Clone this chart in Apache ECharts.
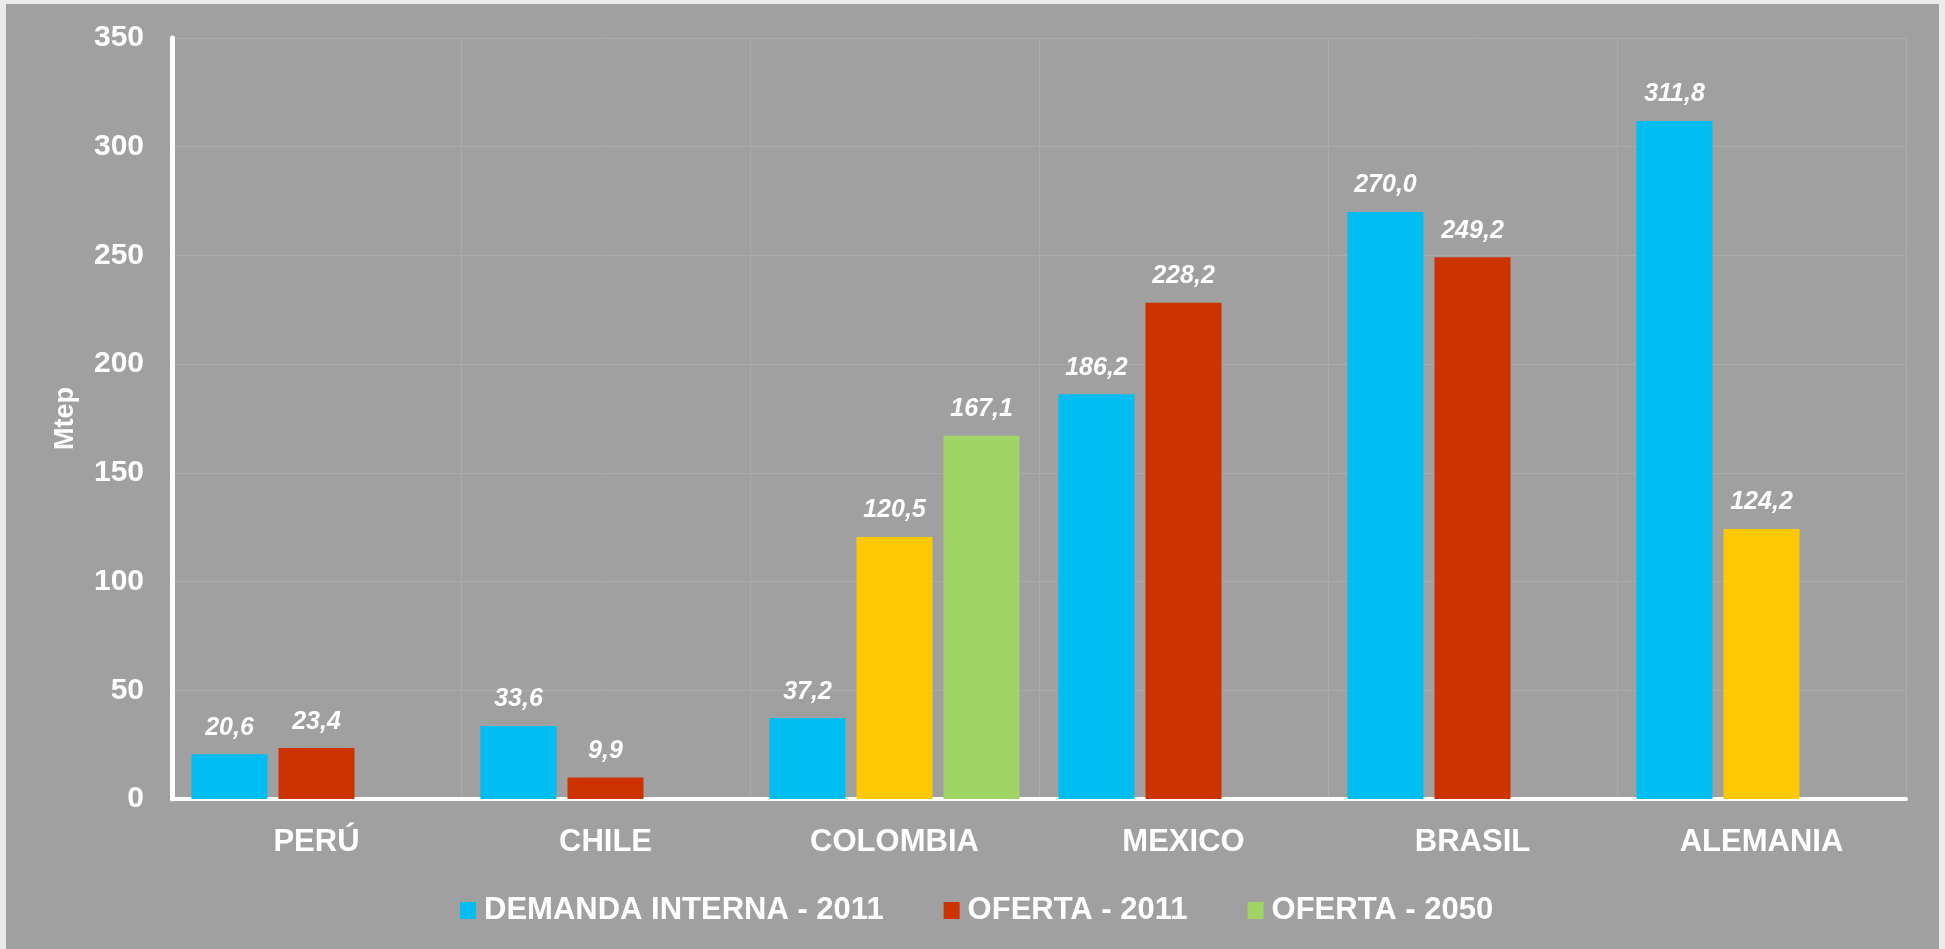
<!DOCTYPE html>
<html>
<head>
<meta charset="utf-8">
<script src="https://cdn.jsdelivr.net/npm/echarts@6/dist/echarts.min.js"></script>
<style>
  html, body { margin: 0; padding: 0; background: #ebebeb; width: 1945px; height: 949px; overflow: hidden; }
  #chart { position: absolute; left: 6px; top: 4px; width: 1933px; height: 945px; background: #a0a0a0; }
</style>
</head>
<body>
<div id="chart"></div>
<script>
// categorías y valores (Mtep)
const countries = ['PERÚ', 'CHILE', 'COLOMBIA', 'MEXICO', 'BRASIL', 'ALEMANIA']
const demanda2011 = [20.6, 33.6, 37.2, 186.2, 270.0, 311.8]
const oferta2011 = [23.4, 9.9, null, 228.2, 249.2, null]
const ofertaAmarilla = [null, null, 120.5, null, null, 124.2] // barras amarillas (sin leyenda)
const oferta2050 = [null, null, 167.1, null, null, null]
const yTicks = [0, 50, 100, 150, 200, 250, 300, 350]

const chart = echarts.init(document.getElementById('chart'))

const font = "'Liberation Sans', Arial, sans-serif"
const fmt = (p) => p.value == null ? '' : p.value.toFixed(1).replace('.', ',')
const barLabel = {
  show: true,
  position: 'top',
  distance: 14,
  color: '#fff',
  fontFamily: font,
  fontWeight: 'bold',
  fontStyle: 'italic',
  fontSize: 25,
  formatter: fmt
}

const option = {
  animation: false,
  textStyle: { fontFamily: font },
  grid: { left: 166, right: 33, top: 34, bottom: 150, containLabel: false },
  legend: {
    data: ['DEMANDA INTERNA - 2011', 'OFERTA - 2011', 'OFERTA - 2050'],
    left: 449,
    top: 886,
    itemWidth: 16,
    itemHeight: 17,
    itemGap: 60,
    icon: 'rect',
    textStyle: { color: '#fff', fontSize: 31, fontWeight: 'bold', fontFamily: font, padding: [0, 0, 0, 3] }
  },
  xAxis: {
    type: 'category',
    data: countries,
    axisLine: { lineStyle: { color: '#fff', width: 4 } },
    axisTick: { show: false },
    axisLabel: { color: '#fff', fontSize: 31, fontWeight: 'bold', margin: 28 },
    splitLine: { show: true, lineStyle: { color: '#ababab', width: 1 } }
  },
  yAxis: {
    type: 'value',
    min: yTicks[0],
    max: yTicks[yTicks.length - 1],
    interval: 50,
    name: 'Mtep',
    nameLocation: 'middle',
    nameRotate: 90,
    nameGap: 93,
    nameTextStyle: { color: '#fff', fontSize: 27, fontWeight: 'bold' },
    axisLine: { show: true, lineStyle: { color: '#fff', width: 5 } },
    axisTick: { show: false },
    axisLabel: { color: '#fff', fontSize: 30, fontWeight: 'bold', margin: 28 },
    splitLine: { lineStyle: { color: '#ababab', width: 1 } }
  },
  series: [
    {
      name: 'DEMANDA INTERNA - 2011',
      type: 'bar',
      data: demanda2011,
      barWidth: 76,
      barGap: '14.5%',
      itemStyle: { color: '#00bef2' },
      label: barLabel
    },
    {
      name: 'OFERTA - 2011',
      type: 'bar',
      stack: 'oferta',
      data: oferta2011,
      barWidth: 76,
      itemStyle: { color: '#cc3300' },
      label: barLabel
    },
    {
      name: 'OFERTA',
      type: 'bar',
      stack: 'oferta',
      data: ofertaAmarilla,
      barWidth: 76,
      itemStyle: { color: '#ffc800' },
      label: barLabel
    },
    {
      name: 'OFERTA - 2050',
      type: 'bar',
      data: oferta2050,
      barWidth: 76,
      itemStyle: { color: '#a0d465' },
      label: barLabel
    }
  ]
}

chart.setOption(option)
</script>
</body>
</html>
